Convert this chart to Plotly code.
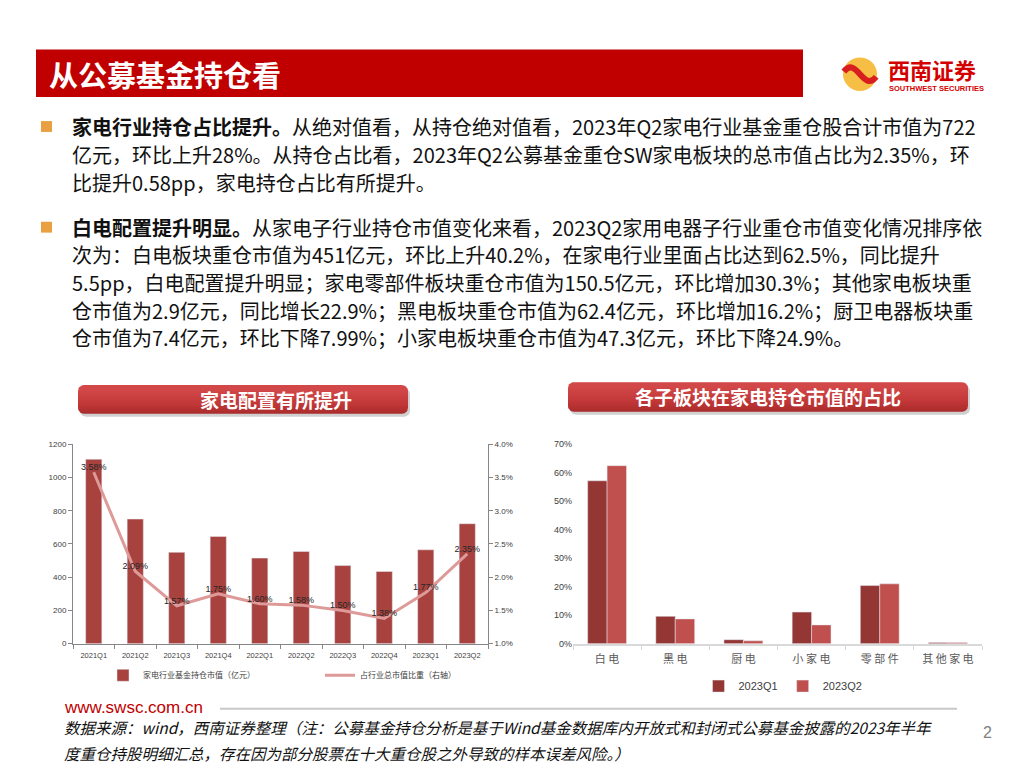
import plotly.graph_objects as go
import numpy as np

W, H = 1024, 768
OX, OY = 8, 8  # page body margin of the browser


def px(x):
    return (x - OX) / W


def py(y):
    return 1 - (y - OY) / H


# ---------------- data ----------------
quarters = ["2021Q1", "2021Q2", "2021Q3", "2021Q4", "2022Q1",
            "2022Q2", "2022Q3", "2022Q4", "2023Q1", "2023Q2"]
holding_value = [1110, 750, 550, 645, 515, 555, 470, 435, 565, 722]   # 亿元
holding_share = [3.58, 2.09, 1.57, 1.75, 1.60, 1.58, 1.50, 1.38, 1.77, 2.35]  # %

sectors = ["白 电", "黑 电", "厨 电", "小 家 电", "零 部 件", "其 他 家 电"]
share_q1 = [57.2, 9.6, 1.4, 11.1, 20.4, 0.4]
share_q2 = [62.5, 8.7, 1.0, 6.6, 21.0, 0.4]

bullet1 = [
    "<b>家电行业持仓占比提升。</b>从绝对值看，从持仓绝对值看，2023年Q2家电行业基金重仓股合计市值为722",
    "亿元，环比上升28%。从持仓占比看，2023年Q2公募基金重仓SW家电板块的总市值占比为2.35%，环",
    "比提升0.58pp，家电持仓占比有所提升。",
]
bullet2 = [
    "<b>白电配置提升明显。</b>从家电子行业持仓市值变化来看，2023Q2家用电器子行业重仓市值变化情况排序依",
    "次为：白电板块重仓市值为451亿元，环比上升40.2%，在家电行业里面占比达到62.5%，同比提升",
    "5.5pp，白电配置提升明显；家电零部件板块重仓市值为150.5亿元，环比增加30.3%；其他家电板块重",
    "仓市值为2.9亿元，同比增长22.9%；黑电板块重仓市值为62.4亿元，环比增加16.2%；厨卫电器板块重",
    "仓市值为7.4亿元，环比下降7.99%；小家电板块重仓市值为47.3亿元，环比下降24.9%。",
]
footer_lines = [
    "数据来源：wind，西南证券整理（注：公募基金持仓分析是基于Wind基金数据库内开放式和封闭式公募基金披露的2023年半年",
    "度重仓持股明细汇总，存在因为部分股票在十大重仓股之外导致的样本误差风险。）",
]

CJK = "Noto Sans CJK SC"

fig = go.Figure()

# ---------------- left chart ----------------
fig.add_trace(go.Bar(
    x=quarters, y=holding_value, name="家电行业基金持仓市值（亿元）",
    marker=dict(color="#A8423F"), width=0.39,
    xaxis="x", yaxis="y", legend="legend",
))
fig.add_trace(go.Scatter(
    x=quarters, y=holding_share, name="占行业总市值比重（右轴）",
    mode="lines+text", line=dict(color="#DE9A98", width=3),
    text=[f"{v:.2f}%" for v in holding_share], textposition="top center",
    textfont=dict(size=9, color="#262626", family="Arial"),
    xaxis="x", yaxis="y2", legend="legend2",
))

# ---------------- right chart ----------------
fig.add_trace(go.Bar(
    x=sectors, y=share_q1, name="2023Q1", marker=dict(color="#943634"),
    xaxis="x3", yaxis="y3", legend="legend3",
))
fig.add_trace(go.Bar(
    x=sectors, y=share_q2, name="2023Q2", marker=dict(color="#C0504D"),
    xaxis="x3", yaxis="y3", legend="legend3",
))


# ---------------- decorations on a full-page pixel overlay ----------------
def rrect(x0, y0, x1, y1, r, n=8):
    xs, ys = [], []
    corners = [(x1 - r, y0 + r, -90, 0), (x1 - r, y1 - r, 0, 90),
               (x0 + r, y1 - r, 90, 180), (x0 + r, y0 + r, 180, 270)]
    for cx, cy, a0, a1 in corners:
        for a in np.linspace(np.radians(a0), np.radians(a1), n):
            xs.append(cx + r * np.cos(a))
            ys.append(cy + r * np.sin(a))
    xs.append(xs[0])
    ys.append(ys[0])
    return xs, ys


def title_bar(x0, y0, x1, y1):
    sx, sy = rrect(x0 + 2, y0 + 3, x1 + 2, y1 + 3, 6)
    fig.add_trace(go.Scatter(x=sx, y=sy, mode="lines", fill="toself",
                             fillcolor="rgba(120,120,120,0.35)", line=dict(width=0),
                             xaxis="x4", yaxis="y4", showlegend=False, hoverinfo="skip"))
    bx, by = rrect(x0, y0, x1, y1, 6)
    fig.add_trace(go.Scatter(x=bx, y=by, mode="lines", fill="toself",
                             fillgradient=dict(type="vertical", start=y0, stop=y1,
                                               colorscale=[[0, "#D24747"], [0.5, "#C13636"], [1, "#9C2626"]]),
                             line=dict(width=0),
                             xaxis="x4", yaxis="y4", showlegend=False, hoverinfo="skip"))


title_bar(78, 385, 408, 414)
title_bar(568, 382, 968, 412)

shapes = []
# header bar
shapes.append(dict(type="rect", xref="paper", yref="paper",
                   x0=px(36), x1=px(803), y0=py(93), y1=py(45),
                   fillcolor="#C00000", line=dict(width=0)))
# bullets
for yb in (123, 225):
    shapes.append(dict(type="rect", xref="paper", yref="paper",
                       x0=px(41), x1=px(52), y0=py(yb + 5.5), y1=py(yb - 5.5),
                       fillcolor="#E8A040", line=dict(width=0)))
# footer line
shapes.append(dict(type="line", xref="paper", yref="paper",
                   x0=px(220), x1=px(957), y0=py(713), y1=py(713),
                   line=dict(color="#C8C8C8", width=2)))
# logo
cx, cy, r = 860, 70, 17
shapes.append(dict(type="circle", xref="paper", yref="paper",
                   x0=px(cx - r), x1=px(cx + r), y0=py(cy + r), y1=py(cy - r),
                   fillcolor="#F6BE45", line=dict(width=0)))
shapes.append(dict(type="path", xref="paper", yref="paper",
                   path=(f"M {px(cx - r * 0.95)},{py(cy - r * 0.15)} "
                         f"C {px(cx - r * 0.2)},{py(cy - r * 1.15)} {px(cx + r * 0.2)},{py(cy + r * 1.15)} "
                         f"{px(cx + r * 0.95)},{py(cy + r * 0.15)}"),
                   line=dict(color="#D81E1E", width=6)))

annotations = []
annotations.append(dict(text="<b>从公募基金持仓看</b>", x=px(47), y=py(70), xref="paper", yref="paper",
                        xanchor="left", yanchor="middle", showarrow=False,
                        font=dict(family=CJK, size=29, color="white")))
annotations.append(dict(text="<b>西南证券</b>", x=px(886), y=py(65), xref="paper", yref="paper",
                        xanchor="left", yanchor="middle", showarrow=False,
                        font=dict(family=CJK, size=22, color="#D40000")))
annotations.append(dict(text="<b>SOUTHWEST SECURITIES</b>", x=px(887), y=py(84), xref="paper", yref="paper",
                        xanchor="left", yanchor="middle", showarrow=False,
                        font=dict(family="Arial", size=7.5, color="#D40000")))

for i, t in enumerate(bullet1):
    annotations.append(dict(text=t, x=px(70), y=py(123 + 28.5 * i), xref="paper", yref="paper",
                            xanchor="left", yanchor="middle", showarrow=False,
                            font=dict(family=CJK, size=20, color="#111111")))
for i, t in enumerate(bullet2):
    annotations.append(dict(text=t, x=px(70), y=py(225 + 28 * i), xref="paper", yref="paper",
                            xanchor="left", yanchor="middle", showarrow=False,
                            font=dict(family=CJK, size=20, color="#111111")))

annotations.append(dict(text="<b>家电配置有所提升</b>", x=px(276), y=py(400), xref="paper", yref="paper",
                        xanchor="center", yanchor="middle", showarrow=False,
                        font=dict(family=CJK, size=19, color="white")))
annotations.append(dict(text="<b>各子板块在家电持仓市值的占比</b>", x=px(768), y=py(397), xref="paper", yref="paper",
                        xanchor="center", yanchor="middle", showarrow=False,
                        font=dict(family=CJK, size=19, color="white")))

annotations.append(dict(text="www.swsc.com.cn", x=px(62), y=py(712), xref="paper", yref="paper",
                        xanchor="left", yanchor="middle", showarrow=False,
                        font=dict(family="Arial", size=17, color="#C00000")))
for i, t in enumerate(footer_lines):
    annotations.append(dict(text=f"<i>{t}</i>", x=px(62), y=py(731 + 27 * i), xref="paper", yref="paper",
                            xanchor="left", yanchor="middle", showarrow=False,
                            font=dict(family=CJK, size=15.5, color="#111111")))
annotations.append(dict(text="2", x=px(987), y=py(737), xref="paper", yref="paper",
                        xanchor="center", yanchor="middle", showarrow=False,
                        font=dict(family="Arial", size=16, color="#808080")))

axis_font = dict(family="Arial", size=8, color="#404040")
vdom = [py(647), py(445)]

fig.update_layout(
    width=W, height=H, autosize=False,
    margin=dict(l=0, r=0, t=0, b=0),
    paper_bgcolor="white", plot_bgcolor="rgba(0,0,0,0)",
    barmode="group", bargap=0.43, bargroupgap=0,
    shapes=shapes, annotations=annotations,
    xaxis=dict(domain=[px(73), px(488)], anchor="y", type="category",
               showline=True, linecolor="#868686", linewidth=1,
               ticks="outside", tickson="boundaries", ticklen=4, tickcolor="#868686",
               ticklabelstandoff=4,
               tickfont=dict(family="Arial", size=7.5, color="#404040"), showgrid=False),
    yaxis=dict(domain=vdom, anchor="x", range=[0, 1200], dtick=200,
               showline=True, linecolor="#868686", ticks="outside", ticklen=4, tickcolor="#868686",
               tickfont=axis_font, showgrid=False, zeroline=False),
    yaxis2=dict(overlaying="y", side="right", anchor="x", range=[1, 4], dtick=0.5,
                tickformat=".1f", ticksuffix="%",
                showline=True, linecolor="#868686", ticks="outside", ticklen=4, tickcolor="#868686",
                tickfont=axis_font, showgrid=False, zeroline=False),
    xaxis3=dict(domain=[px(573), px(982)], anchor="y3", type="category",
                showline=True, linecolor="#D9D9D9", linewidth=2,
                ticks="outside", tickson="boundaries", ticklen=4, tickcolor="#D9D9D9",
                ticklabelstandoff=4,
                tickfont=dict(family=CJK, size=11, color="#595959"), showgrid=False),
    yaxis3=dict(domain=vdom, anchor="x3", range=[0, 70], dtick=10, ticksuffix="%",
                showline=False, showgrid=False, zeroline=False,
                tickfont=dict(family="Arial", size=9, color="#404040")),
    xaxis4=dict(domain=[0, 1], anchor="y4", range=[OX, W + OX], visible=False, fixedrange=True),
    yaxis4=dict(domain=[0, 1], anchor="x4", range=[H + OY, OY], visible=False, fixedrange=True),
    legend=dict(orientation="h", x=px(103), y=py(679), xanchor="left", yanchor="middle",
                font=dict(family=CJK, size=8, color="#404040"), bgcolor="rgba(0,0,0,0)"),
    legend2=dict(orientation="h", x=px(320), y=py(679), xanchor="left", yanchor="middle",
                 font=dict(family=CJK, size=8, color="#404040"), bgcolor="rgba(0,0,0,0)"),
    legend3=dict(orientation="h", x=px(783), y=py(690), xanchor="center", yanchor="middle",
                 font=dict(family="Arial", size=11, color="#404040"), bgcolor="rgba(0,0,0,0)",
                 itemwidth=30),
    showlegend=True,
)

fig.write_html("out.html")
